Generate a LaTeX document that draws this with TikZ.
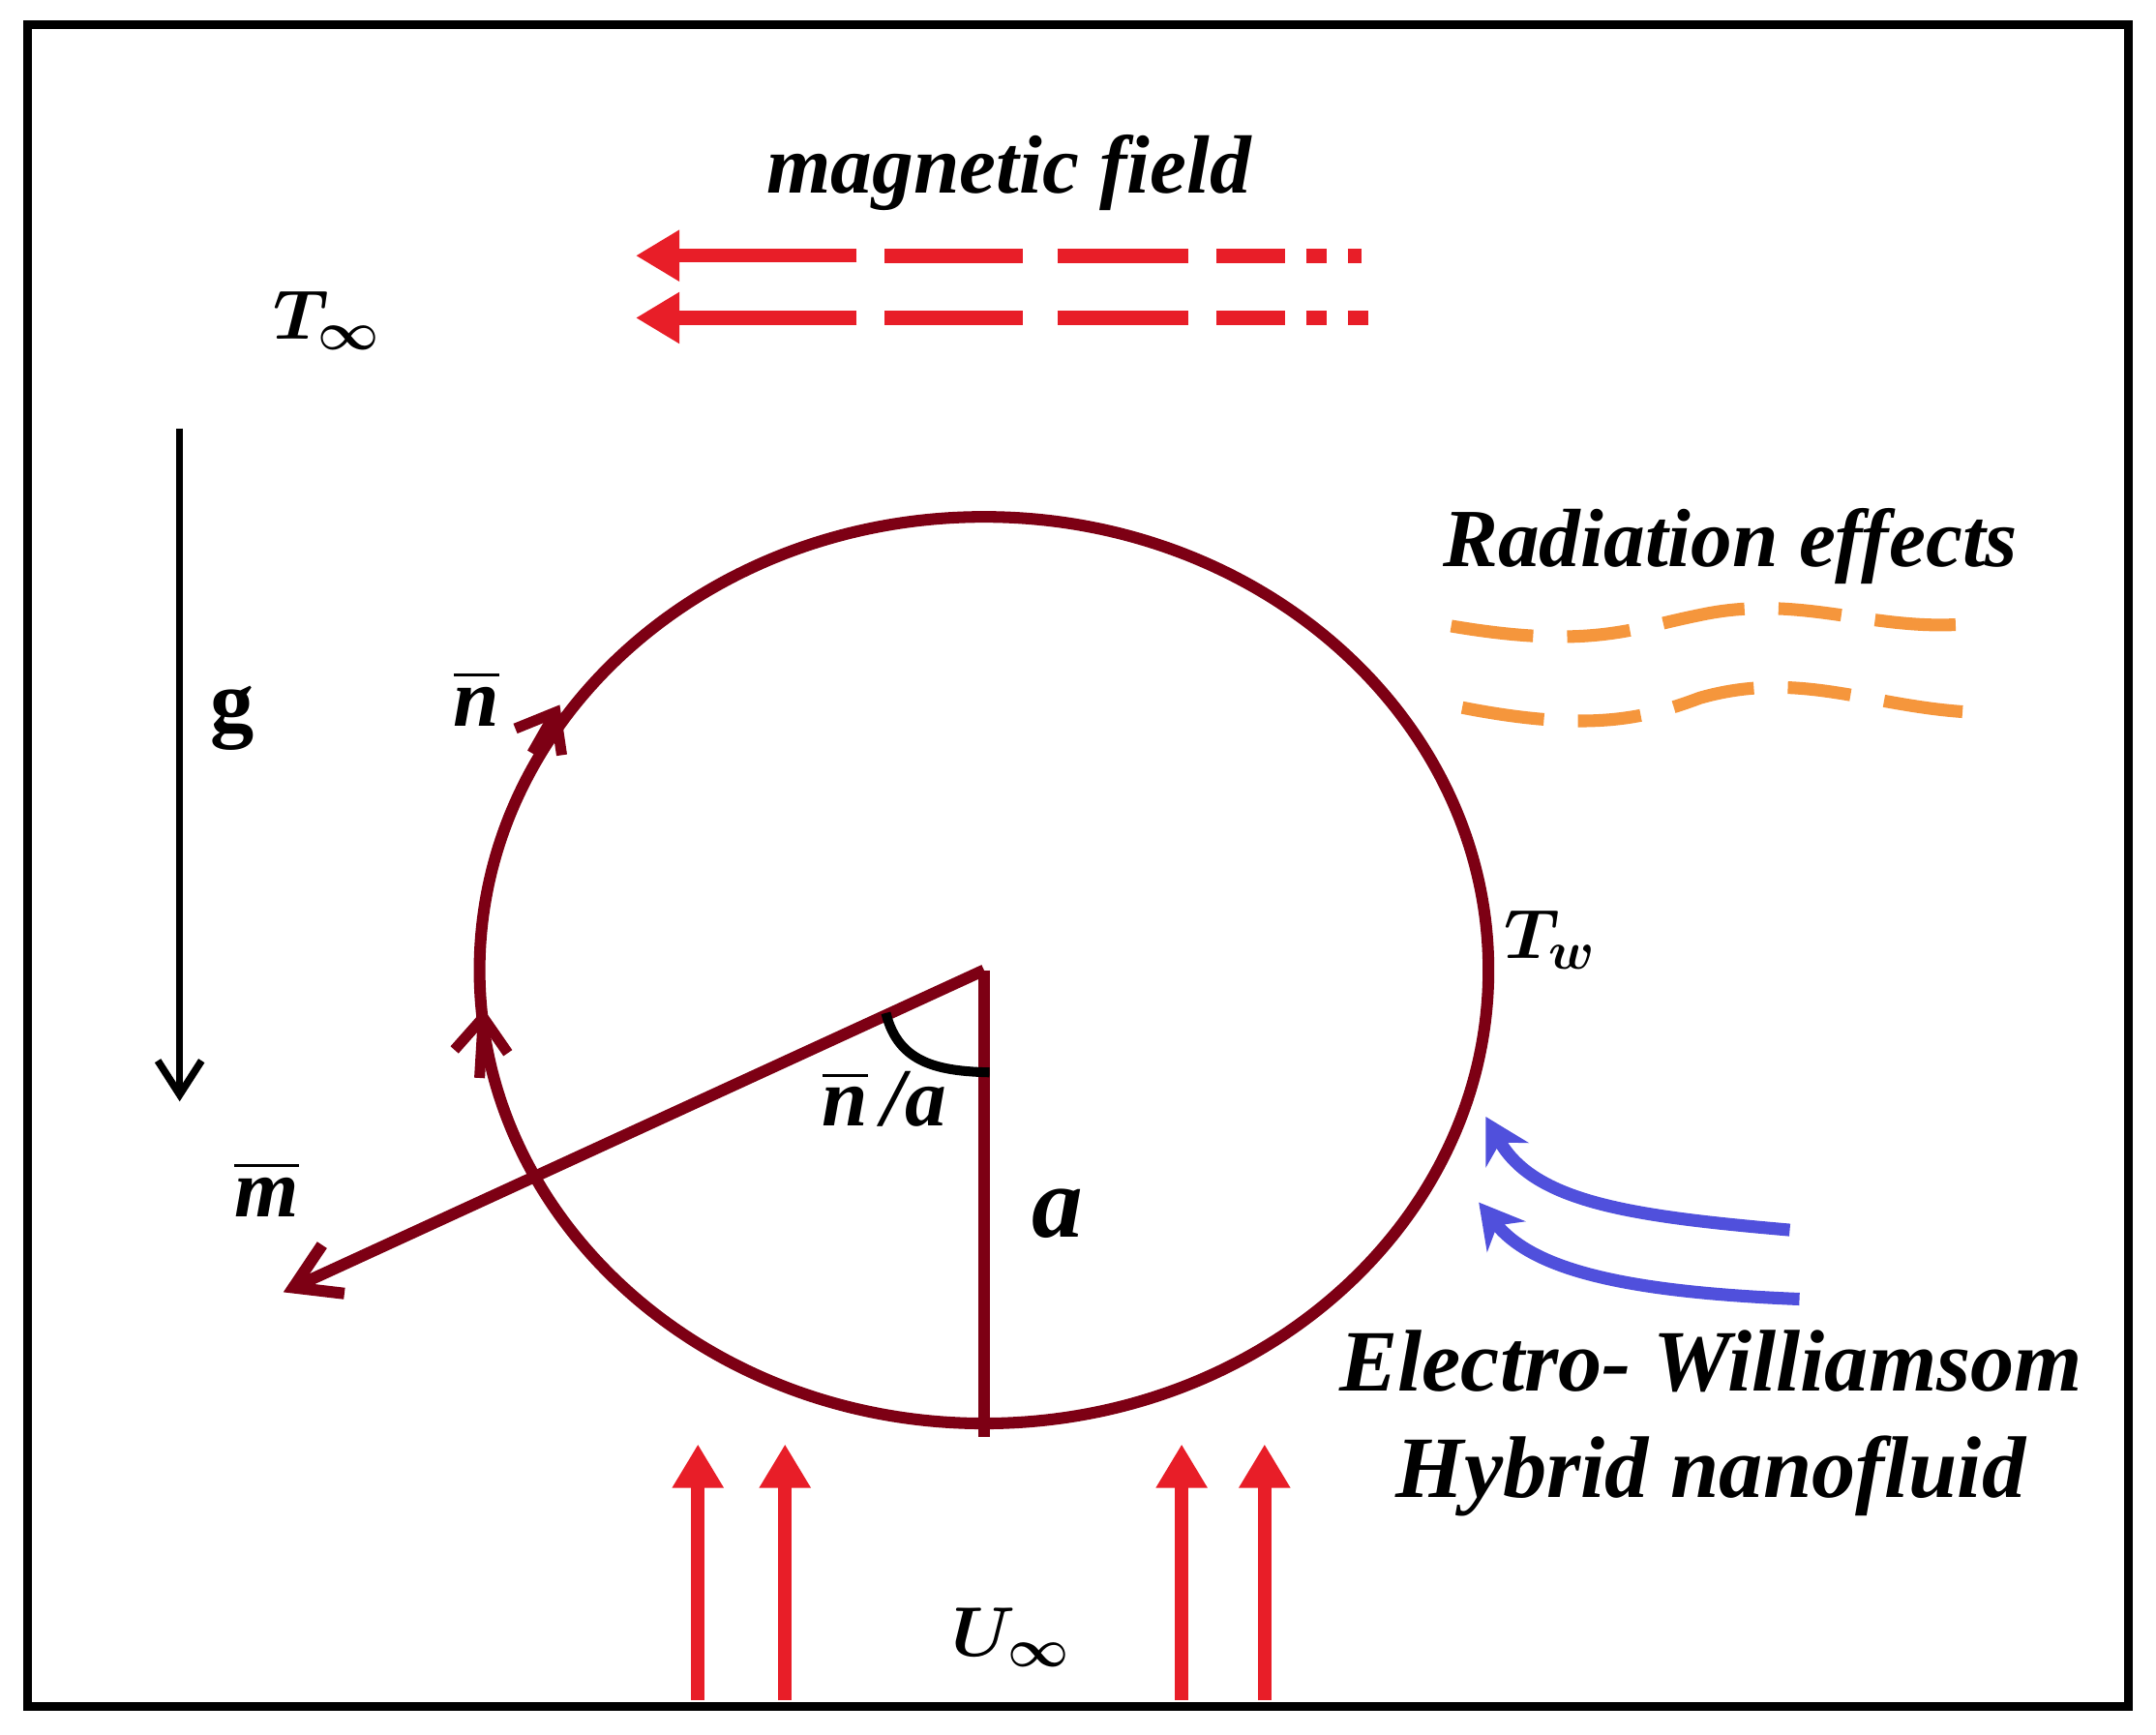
\documentclass[tikz,border=0pt]{standalone}
\usepackage{amsmath}
\usepackage{bm}
\usepackage{fontspec}
\setmainfont{Liberation Serif}
\usetikzlibrary{arrows.meta}
\definecolor{dred}{RGB}{125,0,20}
\definecolor{fred}{RGB}{232,30,40}
\definecolor{org}{RGB}{245,150,60}
\definecolor{blu}{RGB}{80,80,220}
\tikzset{lbl/.style={font=\fontsize{17}{19}\selectfont\bfseries\itshape},
 mlbl/.style={font=\fontsize{15}{17}\selectfont},
 redarr/.style={fred,line width=2.8pt,-{Triangle[length=9pt,width=10pt]}},
 reddash/.style={fred,line width=3pt},
 cir/.style={dred,line width=2.4pt},
 orw/.style={org,line width=2.6pt,dash pattern=on 17pt off 7pt on 13pt off 7pt},
 bluarr/.style={blu,line width=2.6pt,-{Stealth[length=9pt,width=10pt]}}}
\begin{document}
\begin{tikzpicture}[x=0.01cm,y=-0.01cm]
\useasboundingbox (0,0) rectangle (1560,1255);
\fill[white] (0,0) rectangle (1560,1255);
\draw[line width=1.8pt] (20,18) rectangle (1540,1235);
\node[lbl] (mf) at (730,125) {magnetic field};
\foreach \y/\e in {185/985,230/990}{
 \draw[redarr] (620,\y) -- (460,\y);
 \draw[reddash] (640,\y)--(740,\y) (765,\y)--(860,\y) (880,\y)--(930,\y) (945,\y)--(960,\y) (975,\y)--(\e,\y);
}
\node[mlbl] (tinf) at (237,232) {$\bm{T_{\infty}}$};
\coordinate (g1) at (130,310); \coordinate (g2) at (130,797);
\draw[line width=1.5pt,-{Straight Barb[length=7pt,width=9pt]}] (g1) -- (g2);
\node[font=\fontsize{18}{20}\selectfont\bfseries] (g) at (168,520) {g};
\coordinate (c) at (712,702);
\draw[cir] (c) ellipse [x radius=365, y radius=328];
\draw[dred,line width=2.2pt,-{Straight Barb[length=7pt,width=11pt]}] (347,780) -- (350,730);
\draw[dred,line width=2.2pt,-{Straight Barb[length=7pt,width=11pt]}] (385,545) -- (405,510);
\coordinate (b) at (712,1040);
\coordinate (m) at (205,935);
\draw[cir] (c) -- (b);
\draw[cir,-{Straight Barb[length=9pt,width=11pt]}] (c) -- (m);
\draw[line width=2pt] (641,733) .. controls (650,770) and (680,775) .. (716,776);
\node[lbl] (n) at (345,505) {$\overline{\textbf{\textit{n}}}$};
\node[lbl] (na) at (640,795) {$\overline{\textbf{\textit{n}}}$\,/\textit{a}};
\node[lbl,font=\fontsize{21}{23}\selectfont\bfseries\itshape] (a) at (765,878) {a};
\node[lbl] (mm) at (193,860) {$\overline{\textbf{\textit{m}}}$};
\node[mlbl] (tw) at (1122,680) {$\bm{T_{w}}$};
\node[lbl] (rad) at (1252,395) {Radiation effects};
\draw[orw] (1050,453) .. controls (1150,470) and (1180,455) .. (1230,445) .. controls (1300,430) and (1350,455) .. (1415,452);
\draw[orw] (1058,512) .. controls (1150,530) and (1190,520) .. (1230,505) .. controls (1300,485) and (1350,510) .. (1420,515);
\draw[bluarr] (1295,890) .. controls (1180,880) and (1110,870) .. (1075,808);
\draw[bluarr] (1302,940) .. controls (1180,935) and (1110,920) .. (1070,870);
\node[lbl,align=center,font=\fontsize{18}{20}\selectfont\bfseries\itshape] (ew) at (1238,1030) {Electro- Williamsom\\[2pt] Hybrid nanofluid};
\foreach \x in {505,568,855,915}{
 \coordinate (u\x) at (\x,1230);
 \draw[redarr] (u\x) -- (\x,1045);}
\node[mlbl] (uinf) at (732,1185) {$\bm{U_{\infty}}$};
\end{tikzpicture}
\end{document}
